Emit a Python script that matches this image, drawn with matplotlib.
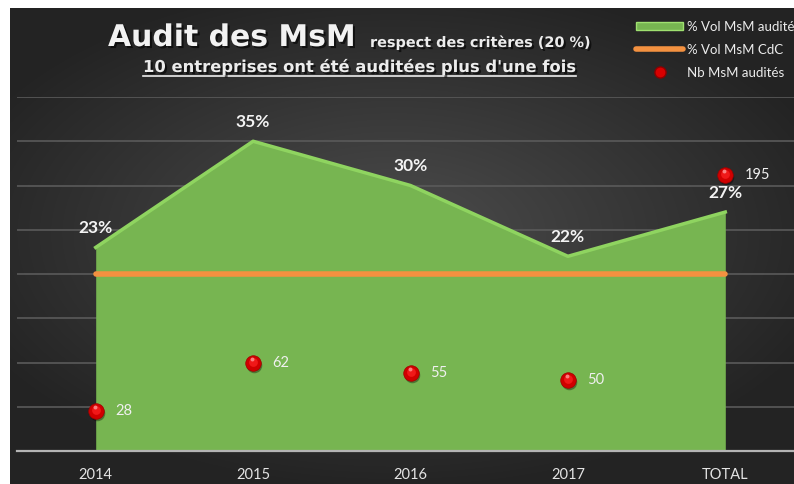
import numpy as np
import matplotlib
matplotlib.use("Agg")
from matplotlib import pyplot as plt
from matplotlib.lines import Line2D
from matplotlib.patches import Patch
from matplotlib.transforms import offset_copy
import matplotlib.patheffects as pe

categories = ['2014', '2015', '2016', '2017', 'TOTAL']
pct_audited = [23, 35, 30, 22, 27]        # % Vol MsM audités
pct_cdc = [20, 20, 20, 20, 20]            # % Vol MsM CdC
nb_audited = [28, 62, 55, 50, 195]        # Nb MsM audités

W, H = 794, 484
fig = plt.figure(figsize=(W / 100, H / 100), dpi=100, facecolor='white')

# dark radial background
bg = fig.add_axes([10 / W, 0, (W - 10) / W, (H - 8) / H])
gx, gy = np.meshgrid(np.linspace(-1, 1, 400), np.linspace(-1, 1, 250))
r = np.sqrt(((gx + 0.02) / 1.1) ** 2 + ((gy + 0.05) / 1.0) ** 2)
shade = np.clip(0.30 - 0.15 * r, 0.14, 0.30)
bg.imshow(np.dstack([shade] * 3), aspect='auto', extent=[0, 1, 0, 1], interpolation='bicubic')
bg.axis('off')

ax = fig.add_axes([17 / W, (H - 451) / H, (804 - 17) / W, (451 - 97) / H])
ax.patch.set_alpha(0)
x = np.arange(len(categories))
ax.set_xlim(-0.5, 4.5)
ax.set_ylim(0, 40)
ax.set_yticks(np.arange(0, 41, 5))
ax.yaxis.set_tick_params(length=0, labelleft=False)
ax.grid(axis='y', color='#5a5a5a', lw=1.2, zorder=0)
ax.set_axisbelow(True)
for s in ['top', 'right', 'left']:
    ax.spines[s].set_visible(False)
ax.spines['bottom'].set_color('#b4b4b4')
ax.spines['bottom'].set_linewidth(1.6)
ax.spines['bottom'].set_zorder(5)
ax.set_xticks(x)
ax.set_xticklabels(categories, fontsize=10.5, color='#e4e4e4', family='Lato')
ax.tick_params(axis='x', length=0, pad=12)

ax.fill_between(x, pct_audited, color='#77b551', zorder=2, lw=0)
ax.plot(x, pct_audited, color='#8fd460', lw=2.5, zorder=2.5, solid_joinstyle='round')
ax.plot(x, pct_cdc, color='#f39140', lw=4, zorder=3, solid_capstyle='round')
for xi, v in zip(x, pct_audited):
    ax.annotate(f'{v}%', (xi, v), xytext=(0, 14), textcoords='offset points',
                ha='center', va='center', fontsize=12.5, fontweight='bold',
                color='#f4f4f4', family='Lato', zorder=6)

ax2 = ax.twinx()
ax2.set_ylim(0, 250)
ax2.axis('off')
ax2.scatter(x, nb_audited, s=125, color='black', lw=0, alpha=0.35, zorder=3,
            transform=offset_copy(ax2.transData, fig=fig, x=1, y=-2, units='dots'))
ax2.scatter(x, nb_audited, s=125, color='#d00000', edgecolor='#a00000', lw=0.5, zorder=4)
ax2.scatter(x, nb_audited, s=40, color='#f01818', lw=0, zorder=5,
            transform=offset_copy(ax2.transData, fig=fig, x=0, y=1, units='dots'))
ax2.scatter(x, nb_audited, s=8, color='#ff9a9a', lw=0, alpha=0.8, zorder=6,
            transform=offset_copy(ax2.transData, fig=fig, x=-1, y=4, units='dots'))
for xi, v in zip(x, nb_audited):
    ax2.annotate(str(v), (xi, v), xytext=(14, 0), textcoords='offset points',
                 ha='left', va='center', fontsize=10.5, color='#f0f0f0', family='Lato')

# titles
shadow = [pe.withSimplePatchShadow(offset=(1.5, -1.5), shadow_rgbFace='black', alpha=0.6)]
fig.text(108 / W, 1 - 46 / H, 'Audit des MsM', fontsize=21.5, fontweight='bold',
         color='#f2f2f2', va='baseline', ha='left', path_effects=shadow)
fig.text(370 / W, 1 - 47 / H, 'respect des critères (20 %)', fontsize=10.4, fontweight='bold',
         color='#ececec', va='baseline', ha='left', path_effects=shadow)
sub = fig.text(143 / W, 1 - 72 / H, "10 entreprises ont été auditées plus d'une fois", fontsize=11.8,
               fontweight='bold', color='#ececec', va='baseline', ha='left', path_effects=shadow)
fig.canvas.draw()
bb = sub.get_window_extent(fig.canvas.get_renderer())
fig.add_artist(Line2D([bb.x0 / W, bb.x1 / W], [(bb.y0 - 1) / H] * 2, color='#ececec', lw=1.2))

handles = [Patch(facecolor='#77b551', edgecolor='#9fe070', lw=1),
           Line2D([], [], color='#f39140', lw=4, solid_capstyle='round'),
           Line2D([], [], ls='', marker='o', ms=8, color='#d80000', mec='#8c0000')]
labels = ['% Vol MsM audités', '% Vol MsM CdC', 'Nb MsM audités']
fig.legend(handles, labels, loc='upper left', bbox_to_anchor=(624 / W, 1 - 9 / H),
           frameon=False, prop={'family': 'Lato', 'size': 9.5}, labelcolor='#ececec',
           handlelength=3.6, handleheight=0.55, handletextpad=0.25, labelspacing=0.82)

fig.savefig('out.png', dpi=100, facecolor='white')
